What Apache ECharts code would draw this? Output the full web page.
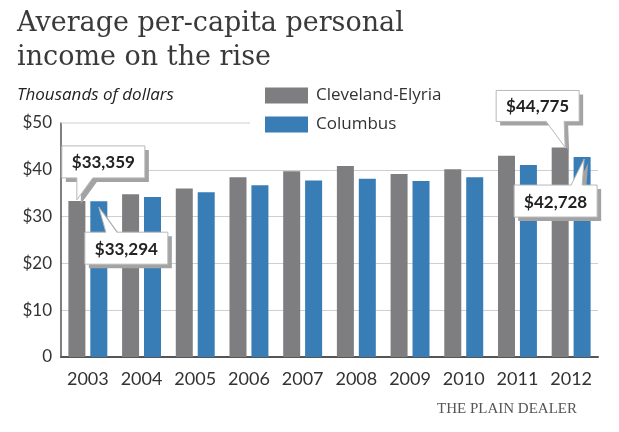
<!DOCTYPE html>
<html>
<head>
<meta charset="utf-8">
<script src="https://cdn.jsdelivr.net/npm/echarts@6/dist/echarts.min.js"></script>
<style>
html,body{margin:0;padding:0;background:#fff;}
#c{width:619px;height:432px;}
</style>
</head>
<body>
<div id="c"></div>
<script>
// ---- data ----
const years = ['2003','2004','2005','2006','2007','2008','2009','2010','2011','2012'];
const cleveland = [33.359, 34.8, 36.0, 38.4, 39.7, 40.8, 39.1, 40.1, 43.0, 44.775];
const columbus  = [33.294, 34.2, 35.2, 36.7, 37.7, 38.1, 37.6, 38.4, 41.0, 42.728];
const seriesNames = ['Cleveland-Elyria', 'Columbus'];
const yTicks = [0, 10, 20, 30, 40, 50];
// callouts: [seriesIndex, categoryIndex]
const callouts = [[0, 0], [1, 0], [0, 9], [1, 9]];

const GRAY = '#7e7e81', BLUE = '#387db5';
const SANS = 'Lato, "Open Sans", sans-serif';

const chart = echarts.init(document.getElementById('c'), null, {renderer: 'canvas'});

chart.setOption({
  animation: false,
  backgroundColor: '#fff',
  grid: {left: 61, right: 21, top: 123, bottom: 75, containLabel: false},
  legend: {
    orient: 'vertical', left: 260, top: 82,
    itemWidth: 43, itemHeight: 16, itemGap: 12, icon: 'rect',
    textStyle: {fontFamily: '"Open Sans", sans-serif', fontSize: 17, color: '#333', padding: [0, 0, 0, 3]},
    data: seriesNames
  },
  xAxis: {
    type: 'category', data: years,
    axisLine: {lineStyle: {color: '#555', width: 2}},
    axisTick: {show: false},
    axisLabel: {interval: 0, fontFamily: SANS, fontSize: 18, color: '#333', margin: 13}
  },
  yAxis: {
    type: 'value', min: yTicks[0], max: yTicks[yTicks.length - 1], interval: 10,
    axisLine: {show: true, lineStyle: {color: '#555', width: 1.5}},
    axisTick: {show: false},
    axisLabel: {fontFamily: SANS, fontSize: 17, color: '#333', margin: 9,
      formatter: v => v === 0 ? '0' : '$' + v},
    splitLine: {show: true, showMaxLine: false, lineStyle: {color: '#cfcfcf', width: 1}}
  },
  series: [
    {name: seriesNames[0], type: 'bar', data: cleveland, barWidth: 17, barGap: '29%',
     itemStyle: {color: GRAY}},
    {name: seriesNames[1], type: 'bar', data: columbus, barWidth: 17,
     itemStyle: {color: BLUE}}
  ]
});

function fmt(v) {
  const n = Math.round(v * 1000);
  return '$' + n.toLocaleString('en-US');
}

// callout layouts relative to pointer tip: [boxDx, boxDy, w, h, baseX1, baseX2, edge, tipDx, tipDy]
const layouts = [
  [-15, -54, 83, 32, 0, 16, 'bottom', 0, -1],
  [-14, 25, 83, 32, 7, 18, 'top', 0, 6],
  [-69, -57, 83, 31, -19, -1, 'bottom', 5, 0],
  [-70, 26, 83, 32, -13, -2, 'top', 2, 2]
];

const graphics = [];
// title
const TITLE_FONT = '27px "DejaVu Serif", serif';
graphics.push({type: 'text', x: 17, y: 24, style: {text: 'Average per-capita personal',
  font: TITLE_FONT, fill: '#3a3a3a', verticalAlign: 'middle'}});
graphics.push({type: 'text', x: 17, y: 58, style: {text: 'income on the rise',
  font: TITLE_FONT, fill: '#3a3a3a', verticalAlign: 'middle'}});
graphics.push({type: 'text', x: 17, y: 95, style: {text: 'Thousands of dollars',
  fontFamily: 'Open Sans', fontStyle: 'italic', fontSize: 17, fill: '#222', verticalAlign: 'middle'}});
graphics.push({type: 'text', x: 577, y: 409, style: {text: 'THE PLAIN DEALER',
  fontFamily: 'Liberation Serif', fontSize: 15, fill: '#555', align: 'right', verticalAlign: 'middle'}});

// short top gridline
const y50 = chart.convertToPixel({yAxisIndex: 0}, yTicks[yTicks.length - 1]);
graphics.push({type: 'line', shape: {x1: 61, y1: y50, x2: 250, y2: y50},
  style: {stroke: '#cfcfcf', lineWidth: 1}, z: 1});

callouts.forEach((c, k) => {
  const [si, ci] = c;
  const val = (si === 0 ? cleveland : columbus)[ci];
  const center = chart.convertToPixel({gridIndex: 0}, [ci, val]);
  const barX = center[0] + (si === 0 ? -11 : 11);
  const L = layouts[k];
  const tx = barX + L[7], ty = center[1] + L[8];
  const bx = tx + L[0], by = ty + L[1], w = L[2], h = L[3];
  const b1 = tx + L[4], b2 = tx + L[5];
  let pts;
  if (L[6] === 'bottom') {
    pts = [[bx, by], [bx + w, by], [bx + w, by + h], [b2, by + h], [tx, ty], [b1, by + h], [bx, by + h]];
  } else {
    pts = [[bx, by], [b1, by], [tx, ty], [b2, by], [bx + w, by], [bx + w, by + h], [bx, by + h]];
  }
  graphics.push({type: 'polygon', shape: {points: pts.map(p => [p[0] + 4, p[1] + 4])},
    style: {fill: '#a3a3a3'}, z: 10});
  graphics.push({type: 'polygon', shape: {points: pts},
    style: {fill: '#fff', stroke: '#b8b8b8', lineWidth: 1}, z: 11});
  graphics.push({type: 'text', x: bx + w / 2, y: by + h / 2 + 1, z: 12,
    style: {text: fmt(val), fontFamily: 'Lato', fontWeight: 'bold', fontSize: 17, fill: '#222',
      align: 'center', verticalAlign: 'middle'}});
});

chart.setOption({graphic: graphics});
</script>
</body>
</html>
